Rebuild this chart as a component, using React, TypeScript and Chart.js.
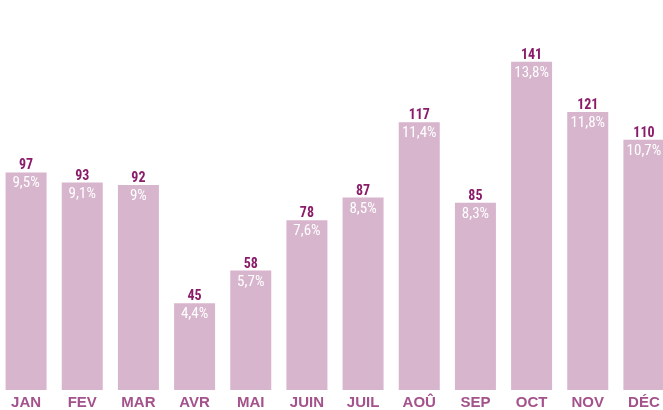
import React, { useEffect, useRef } from "react";
import { Chart, registerables } from "chart.js";

Chart.register(...registerables);

const months = ["JAN", "FEV", "MAR", "AVR", "MAI", "JUIN", "JUIL", "AOÛ", "SEP", "OCT", "NOV", "DÉC"];
const counts = [97, 93, 92, 45, 58, 78, 87, 117, 85, 141, 121, 110];
const shares = ["9,5%", "9,1%", "9%", "4,4%", "5,7%", "7,6%", "8,5%", "11,4%", "8,3%", "13,8%", "11,8%", "10,7%"];

const NARROW = "'Roboto Condensed', 'Liberation Sans', sans-serif";
const CAT_FONT = "'Liberation Sans', Arial, sans-serif";
const BAR = "#d7b5cd";
const VALUE_COLOR = "#8a1c6a";
const CAT_COLOR = "#a3528b";

const labelPlugin = {
  id: "barLabels",
  afterDatasetsDraw(chart: any) {
    const ctx = chart.ctx;
    const meta = chart.getDatasetMeta(0);
    ctx.save();
    ctx.textAlign = "center";
    ctx.textBaseline = "alphabetic";
    meta.data.forEach((bar: any, i: number) => {
      ctx.fillStyle = VALUE_COLOR;
      ctx.font = `bold 14px ${NARROW}`;
      ctx.fillText(String(counts[i]), bar.x, bar.y - 3);
      ctx.fillStyle = "#ffffff";
      ctx.font = `15px ${NARROW}`;
      ctx.fillText(shares[i], bar.x, bar.y + 15);
    });
    ctx.restore();
  },
};

export default function App() {
  const ref = useRef<HTMLCanvasElement>(null);
  useEffect(() => {
    if (!ref.current) return;
    const chart = new Chart(ref.current, {
      type: "bar",
      data: {
        labels: months,
        datasets: [
          {
            data: counts,
            backgroundColor: BAR,
            borderWidth: 0,
            categoryPercentage: 1,
            barPercentage: 0.73,
          },
        ],
      },
      options: {
        animation: false,
        responsive: false,
        maintainAspectRatio: false,
        layout: { padding: { top: 14, left: 0, right: 0, bottom: 0 } },
        plugins: { legend: { display: false }, tooltip: { enabled: false } },
        scales: {
          y: { display: false, min: 10.5, max: 160 },
          x: {
            grid: { display: false, drawTicks: false },
            border: { display: false },
            ticks: {
              color: CAT_COLOR,
              font: { family: CAT_FONT, size: 15, weight: "bold" },
              padding: 4,
              autoSkip: false,
              maxRotation: 0,
            },
            afterFit: (axis: any) => {
              axis.height = 20;
            },
          },
        },
      },
      plugins: [labelPlugin],
    });
    return () => chart.destroy();
  }, []);
  return (
    <div style={{ position: "fixed", left: 0, top: 0, width: 663, height: 410, overflow: "hidden", background: "#fff" }}>
      <canvas ref={ref} width={674} height={410} style={{ position: "absolute", left: -2, top: 0, width: 674, height: 410 }} />
    </div>
  );
}
